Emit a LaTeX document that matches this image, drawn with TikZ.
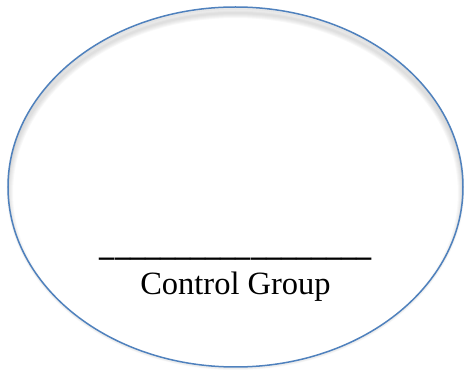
\documentclass[tikz,border=0pt]{standalone}
\usepackage{fontspec}
\setmainfont{Liberation Serif}
\usetikzlibrary{shapes.geometric}
\definecolor{ovalblue}{RGB}{79,129,189}
\begin{document}
\begin{tikzpicture}[x=1pt,y=-1pt,
  oval/.style={draw=ovalblue,line width=1.5pt},
  lbl/.style={inner sep=0pt,anchor=base,font=\fontsize{32.5}{36}\selectfont}]
\useasboundingbox (0,0) rectangle (464,371);
\fill[white] (0,0) rectangle (464,371);
% soft shadow
\begin{scope}
  \clip (235.5,187) ellipse [x radius=227.5, y radius=180];
  \foreach \w in {2,4,...,10}
    \draw[black!45,opacity=0.06,line width=\w pt] (235.5,193) ellipse [x radius=227.5, y radius=180];
\end{scope}
\foreach \w in {1,2,3}
  \draw[black!40,opacity=0.06,line width=\w pt] (235.5,188.5) ellipse [x radius=227.5, y radius=180];
\node[oval,ellipse,minimum width=455pt,minimum height=360pt,inner sep=0pt] (group) at (235.5,187) {};
\node[lbl,font=\fontsize{30}{34}\selectfont] (blank) at (236,254.5) {\scalebox{1.0075}[1.5]{\_\_\_\_\_\_\_\_\_\_\_\_\_\_\_\_\_\_}};
\node[lbl] (name) at (235.5,295) {Control Group};
\end{tikzpicture}
\end{document}
